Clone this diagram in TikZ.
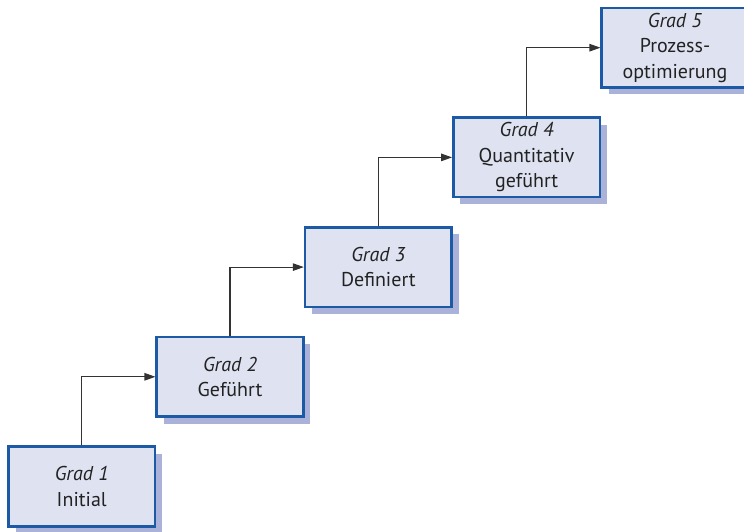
\documentclass[tikz,border=0pt]{standalone}
\usepackage{fontspec}
\setmainfont{PT Sans}
\usetikzlibrary{arrows.meta,shadows}
\definecolor{boxfill}{HTML}{DFE3F1}
\definecolor{boxline}{HTML}{1D5AA5}
\definecolor{boxshade}{HTML}{AAB2DA}
\definecolor{connline}{HTML}{333333}
\definecolor{txt}{HTML}{222222}
\begin{document}
\begin{tikzpicture}[x=1pt,y=1pt,
  stage/.style={draw=boxline, line width=2.6pt, fill=boxfill,
    minimum width=146.5pt, minimum height=79.5pt, inner sep=0pt,
    align=center, text=txt,
    font=\fontsize{20}{25.5}\selectfont,
    drop shadow={shadow xshift=7pt, shadow yshift=-7pt, fill=boxshade, opacity=1}},
  conn/.style={draw=connline, line width=1.1pt,
    -{Triangle[length=11pt,width=7.5pt]}}]
  \useasboundingbox (0,0) rectangle (744,532);
  % the five maturity stages, climbing from bottom left to top right
  \node[stage] (g1) at (81.75,45.5)  {\textit{Grad 1}\\Initial};
  \node[stage] (g2) at (230,155.2)   {\textit{Grad 2}\\Geführt};
  \node[stage] (g3) at (378.35,264.9){\textit{Grad 3}\\Definiert};
  \node[stage] (g4) at (526.65,374.6){\textit{Grad 4}\\Quantitativ\\geführt};
  \node[stage] (g5) at (675,484.3)   {\textit{Grad 5}\\Prozess-\\optimierung};
  % step connectors: up from each box, then right into the next one
  \draw[conn] (g1.north) |- (g2.west);
  \draw[conn] (g2.north) |- (g3.west);
  \draw[conn] (g3.north) |- (g4.west);
  \draw[conn] (g4.north) |- (g5.west);
\end{tikzpicture}
\end{document}
